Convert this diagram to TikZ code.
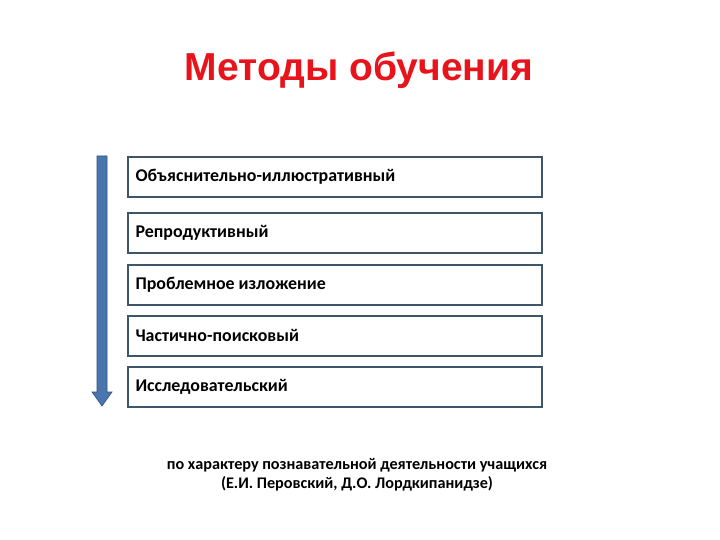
\documentclass[tikz,border=0pt]{standalone}
\usepackage{fontspec}
\setmainfont{Carlito}
\newfontfamily\titlefont{Liberation Sans}
\usetikzlibrary{positioning}
\definecolor{boxline}{HTML}{3F5568}
\definecolor{arrowblue}{HTML}{4A76B0}
\definecolor{titlered}{HTML}{E8141B}
\tikzset{
  methodbox/.style={draw=boxline, line width=1.8pt, fill=white, minimum width=414pt, minimum height=40pt, anchor=north west, inner sep=0pt},
  methodtext/.style={anchor=west, font=\fontsize{17.9}{21}\selectfont\bfseries},
}
\begin{document}
\begin{tikzpicture}[x=1pt,y=1pt]
\useasboundingbox[fill=white] (0,0) rectangle (720,-540);
\node[font=\titlefont\bfseries\fontsize{39}{46}\selectfont, text=titlered] (title) at (359,-70) {Методы обучения};
\node[methodbox] (b1) at (127,-156) {};
\node[methodbox] (b2) at (127,-212) {};
\node[methodbox] (b3) at (127,-264) {};
\node[methodbox] (b4) at (127,-315) {};
\node[methodbox] (b5) at (127,-366) {};
\node[methodtext] at ([xshift=5pt]b1.west) {Объяснительно-иллюстративный};
\node[methodtext] at ([xshift=5pt]b2.west) {Репродуктивный};
\node[methodtext] at ([xshift=5pt]b3.west) {Проблемное изложение};
\node[methodtext] at ([xshift=5pt]b4.west) {Частично-поисковый};
\node[methodtext] at ([xshift=5pt]b5.west) {Исследовательский};
\fill[arrowblue, draw=arrowblue!70!black, line width=0.6pt] (97,-156) -- (107,-156) -- (107,-392) -- (112,-392) -- (102,-406) -- (92,-392) -- (97,-392) -- cycle;
\node[font=\fontsize{16.2}{19.5}\selectfont\bfseries, align=center] (src) at (357,-475) {по характеру познавательной деятельности учащихся\\(Е.И. Перовский, Д.О. Лордкипанидзе)};
\end{tikzpicture}
\end{document}
